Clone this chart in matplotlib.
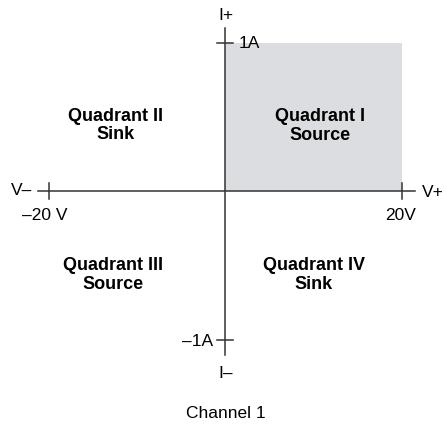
import matplotlib.pyplot as plt
from matplotlib.patches import Rectangle

plt.rcParams['font.family'] = ['Liberation Sans', 'DejaVu Sans']

# limites do canal
v_max = 20
i_max = 1
v_ticks = [-20, 20]
v_tick_labels = ['\u201320 V', '20V']
i_ticks = [1, -1]
i_tick_labels = ['1A', '\u20131A']

quadrantes = ['Quadrant I\nSource', 'Quadrant II\nSink',
              'Quadrant III\nSource', 'Quadrant IV\nSink']
pos_quadrantes = [(10.71, 0.448), (-12.41, 0.451), (-12.76, -0.556), (10.03, -0.556)]

cor_linha = '#333333'
cor_area = '#dcdde0'

fig = plt.figure(figsize=(4.47, 4.27), dpi=100)
ax = fig.add_axes([0, 0, 1, 1])
ax.set_xlim(-25.55, 25.10)
ax.set_ylim(-1.579, 1.296)
ax.axis('off')

px_x = 1 / 8.825   # unidades por pixel
px_y = 1 / 148.5

# area sombreada (quadrante I)
ax.add_patch(Rectangle((0, 0), v_max, i_max, facecolor=cor_area,
                       edgecolor='none', zorder=1))

# eixos
ax.plot([-21.25, 21.47], [0, 0], color=cor_linha, lw=1.1, zorder=2)
ax.plot([0, 0], [-1.101, 1.101], color=cor_linha, lw=1.1, zorder=2)

# marcas
for v in v_ticks:
    ax.plot([v, v], [-8 * px_y, 8 * px_y], color=cor_linha, lw=1.1, zorder=2)
for i in i_ticks:
    ax.plot([-8 * px_x, 8 * px_x], [i, i], color=cor_linha, lw=1.1, zorder=2)

fs = 12.5
ax.text(-20.45, -0.152, v_tick_labels[0], ha='center', va='center', fontsize=fs)
ax.text(19.89, -0.152, v_tick_labels[1], ha='center', va='center', fontsize=fs)
ax.text(1.53, i_ticks[0], i_tick_labels[0], ha='left', va='center', fontsize=fs)
ax.text(-1.42, i_ticks[1], i_tick_labels[1], ha='right', va='center', fontsize=fs)

ax.text(-21.93, 0.01, 'V\u2013', ha='right', va='center', fontsize=fs)
ax.text(22.27, 0.0, 'V+', ha='left', va='center', fontsize=fs)
ax.text(0.06, 1.195, 'I+', ha='center', va='center', fontsize=fs)
ax.text(0.06, -1.222, 'I\u2013', ha='center', va='center', fontsize=fs)

for txt, (x, y) in zip(quadrantes, pos_quadrantes):
    ax.text(x, y, txt, ha='center', va='center', fontsize=13,
            fontweight='bold', linespacing=1.15)

ax.text(0, -1.488, 'Channel 1', ha='center', va='center', fontsize=fs)

fig.savefig('out.png', dpi=100)
